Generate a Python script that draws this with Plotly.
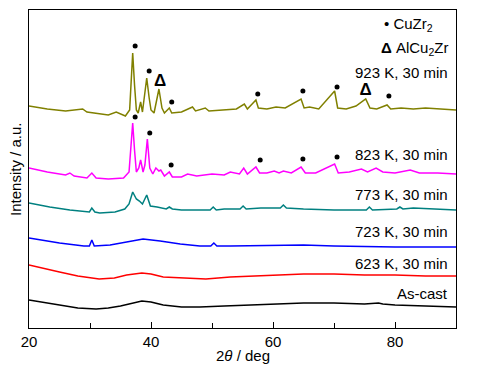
import plotly.graph_objects as go

# 2theta (deg) and intensity (a.u.)
ascast_x = [20, 22, 25, 28, 31, 33, 35, 37, 38.5, 40, 42, 45, 48, 52, 56, 60, 65, 70, 75, 77.3, 78, 80, 85, 90]
ascast_y = [28, 26, 23, 20, 19, 20, 22, 25, 27, 26, 23, 21, 21, 22, 23, 24, 25, 25, 24, 25, 24, 23, 22, 21]

k623_x = [20, 22, 25, 28, 31.5, 34, 36, 38.5, 40, 42, 45, 49, 53, 57, 60, 65, 70, 75, 80, 85, 90]
k623_y = [63, 60, 56, 52, 49, 50, 53, 55, 54, 51, 50, 49, 51, 52, 53, 54, 54, 53, 53, 52, 52]

k723_x = [20, 25, 29, 29.9, 30.3, 30.7, 33.3, 36.5, 38.7, 41.5, 44.8, 48, 49.8, 50.3, 50.8, 53, 60, 65, 70, 80, 90]
k723_y = [90, 85, 82, 82, 88, 82, 83, 87, 89, 87, 84, 82, 82, 85, 82, 82, 83, 83, 82, 81, 81]

k773_x = [20, 23.4, 26.7, 29.2, 29.9, 30.3, 30.8, 31.6, 34.1, 35.7, 36.4, 37.0, 37.6, 38.1, 38.6, 39.3, 39.9, 41, 42.5, 43.0, 43.5, 45,
          49.7, 50.2, 50.7, 52, 54.6, 55.1, 55.6, 58, 61.2, 61.7, 62.2, 65, 70, 75.3, 75.8, 76.3, 80.3, 80.8, 81.3, 83, 86, 90]
k773_y = [125, 121, 118, 116, 116, 120, 116, 115, 116, 119, 124, 136, 129, 127, 124, 133, 122, 121, 119, 121, 119, 118,
          118, 121, 118, 119, 119, 122, 119, 120, 120, 123, 120, 119, 118, 118, 121, 118, 119, 121, 119, 120, 119, 118]

k823_x = [20, 23, 26, 26.7, 27.4, 29.5, 30.3, 31, 33, 35.5, 36.4, 36.7, 37.0, 37.3, 37.6, 38.0, 38.3, 38.7, 39.0, 39.4, 39.8,
          40.3, 40.8, 41.3, 41.6, 42.2, 43.0, 43.5, 45, 46, 47.5, 50, 52, 53, 54.5, 55.2, 55.8, 57.2, 57.8, 59, 60.2, 61,
          61.7, 63, 64.6, 65.3, 67, 70.1, 70.7, 72.5, 74.5, 75.5, 76.9, 78, 80, 82.5, 84, 87, 90]
k823_y = [160, 156, 153, 155, 152, 150, 155, 150, 149, 150, 156, 178, 205, 178, 156, 160, 168, 156, 163, 189, 160,
          154, 160, 157, 158, 152, 156, 151, 151, 154, 152, 154, 153, 156, 154, 160, 154, 161, 155, 155, 157, 155,
          157, 155, 161, 155, 155, 164, 155, 156, 159, 156, 160, 156, 155, 158, 155, 155, 154]

k923_x = [20, 23, 26, 28.8, 29.5, 31, 33, 34.3, 35.8, 36.5, 36.8, 37.0, 37.3, 37.6, 37.9, 38.3, 38.6, 38.9, 39.3, 39.7, 40.0,
          40.5, 41.3, 41.8, 42.2, 43.0, 43.4, 45, 46.8, 47.3, 48.9, 49.5, 52, 54, 55.3, 55.8, 57.2, 57.6, 59, 60.5, 62,
          64.6, 65.1, 66, 67.5, 70.1, 70.6, 72, 73.6, 75.2, 75.9, 77, 78.7, 79.3, 81, 83, 85, 87, 90]
k923_y = [222, 219, 217, 219, 216, 215, 213, 216, 212, 218, 248, 275, 243, 218, 215, 226, 216, 232, 250, 230, 218,
          215, 239, 220, 215, 220, 215, 216, 221, 217, 220, 217, 218, 219, 224, 219, 228, 220, 219, 221, 220,
          229, 220, 221, 219, 237, 220, 219, 222, 229, 220, 219, 223, 219, 220, 219, 220, 219, 218]

# phase markers
cuzr2_x = [37.4, 39.7, 43.4, 57.5, 64.9, 70.5, 79.0, 37.4, 39.8, 43.3, 57.9, 64.9, 70.5]
cuzr2_y = [282, 257, 226, 234, 237, 241, 232, 211, 195, 163, 168, 169, 171]
alcu2zr_x = [41.5, 75.2]
alcu2zr_y = [246, 237]

series = [
    ("As-cast", ascast_x, ascast_y, "#000000"),
    ("623 K, 30 min", k623_x, k623_y, "#FF0000"),
    ("723 K, 30 min", k723_x, k723_y, "#0000FF"),
    ("773 K, 30 min", k773_x, k773_y, "#008080"),
    ("823 K, 30 min", k823_x, k823_y, "#FF00FF"),
    ("923 K, 30 min", k923_x, k923_y, "#808000"),
]
label_y = [35, 65, 97, 134, 174, 256]

FONT = "Liberation Sans, Arial, sans-serif"
fig = go.Figure()
for name, xs, ys, col in series:
    fig.add_trace(go.Scatter(x=xs, y=ys, mode="lines", line=dict(color=col, width=1.5),
                             name=name, showlegend=False))

fig.add_trace(go.Scatter(x=cuzr2_x, y=cuzr2_y, mode="markers",
                         marker=dict(color="black", size=5), showlegend=False))
fig.add_trace(go.Scatter(x=alcu2zr_x, y=alcu2zr_y, mode="text", text=["<b>Δ</b>"] * len(alcu2zr_x),
                         textfont=dict(family=FONT, size=17, color="black"), showlegend=False))

annotations = []
for (name, _, _, _), ly in zip(series, label_y):
    annotations.append(dict(x=89, y=ly, xref="x", yref="y", text=name, showarrow=False,
                            xanchor="right", yanchor="middle", font=dict(family=FONT, size=15, color="black")))
annotations.append(dict(x=86.6, y=304, xref="x", yref="y", text="• CuZr<sub>2</sub>", showarrow=False,
                        xanchor="right", yanchor="middle", font=dict(family=FONT, size=15, color="black")))
annotations.append(dict(x=89, y=280, xref="x", yref="y", text="<b>Δ</b> AlCu<sub>2</sub>Zr", showarrow=False,
                        xanchor="right", yanchor="middle", font=dict(family=FONT, size=15, color="black")))
annotations.append(dict(x=0.5, y=-0.085, xref="paper", yref="paper", text="2<i>θ</i> / deg", showarrow=False,
                        xanchor="center", yanchor="middle", font=dict(family=FONT, size=15, color="black")))
annotations.append(dict(x=-0.033, y=0.5, xref="paper", yref="paper", text="Intensity / a.u.", showarrow=False,
                        textangle=-90, xanchor="center", yanchor="middle",
                        font=dict(family=FONT, size=15, color="black")))

fig.update_layout(
    width=477, height=369,
    margin=dict(l=29, r=21, t=10, b=41, autoexpand=False),
    paper_bgcolor="white", plot_bgcolor="white",
    font=dict(family=FONT, size=15, color="black"),
    annotations=annotations,
    xaxis=dict(range=[20, 90], tickvals=[20, 40, 60, 80], ticks="inside", ticklen=6, tickwidth=1,
               tickcolor="black", showline=True, linecolor="black", linewidth=1, mirror=True,
               showgrid=False, zeroline=False, automargin=False,
               minor=dict(tickvals=[30, 50, 70], ticks="inside", ticklen=5, tickcolor="black"),
               tickfont=dict(size=15)),
    yaxis=dict(range=[0, 318], showticklabels=False, ticks="", showline=True, linecolor="black",
               linewidth=1, mirror=True, showgrid=False, zeroline=False, automargin=False),
)
fig.write_html("out.html", config={"displayModeBar": False},
               post_script="document.body.style.margin='0';")
